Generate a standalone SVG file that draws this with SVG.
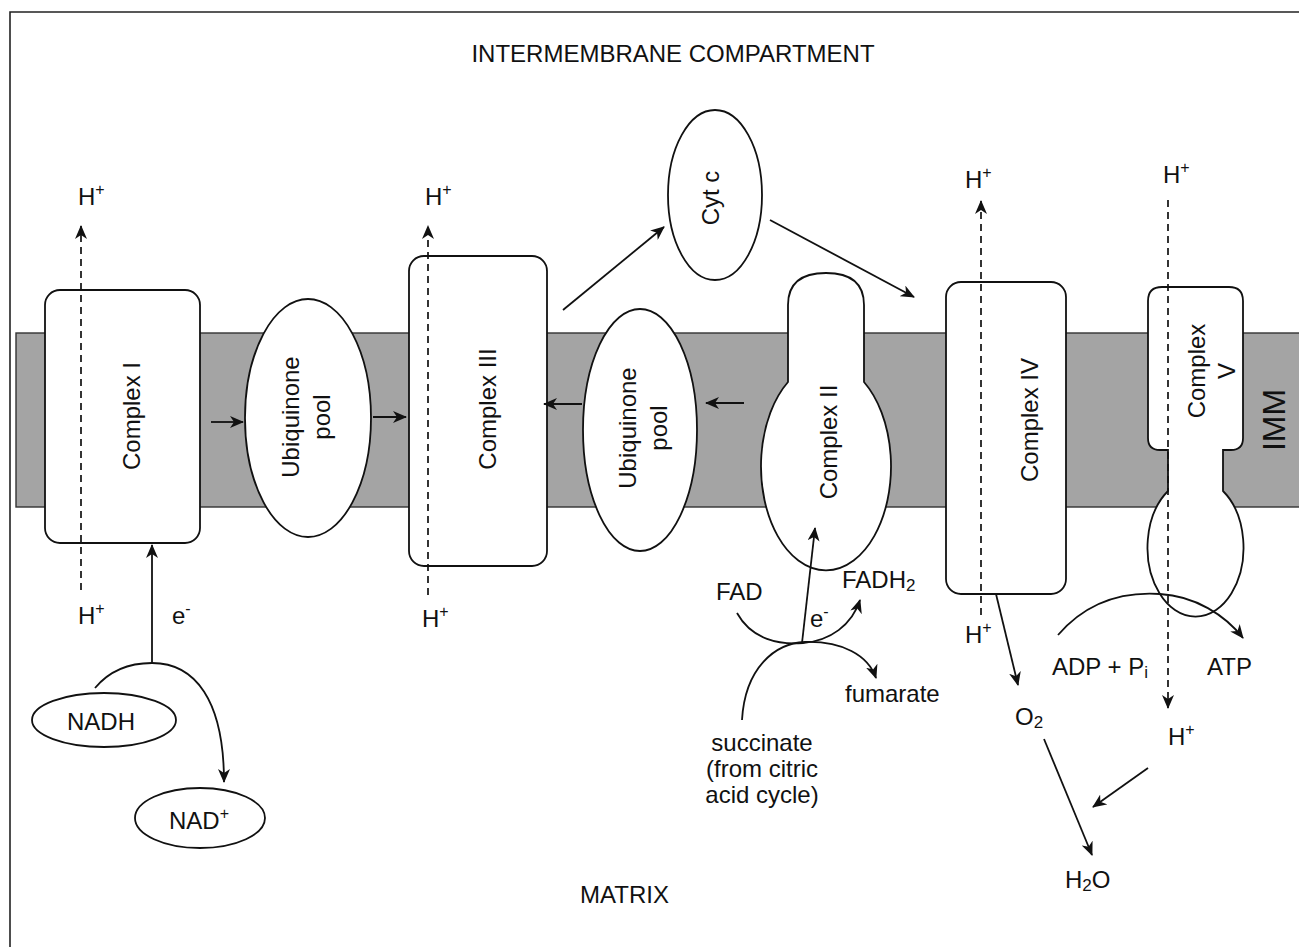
<svg xmlns="http://www.w3.org/2000/svg" width="1299" height="947" viewBox="0 0 1299 947">
<style>
text{font-family:"Liberation Sans",Arial,sans-serif;font-size:24px;fill:#111}
.node{fill:#fff;stroke:#111;stroke-width:1.8}
.conn{fill:none;stroke:#111;stroke-width:1.8}
.dash{fill:none;stroke:#111;stroke-width:1.7;stroke-dasharray:7 5}
.sup{font-size:16px}
.sub{font-size:17px}
.mid{text-anchor:middle}
</style>
<defs>
<marker id="ah" viewBox="0 0 14 12" refX="13" refY="6" markerWidth="14" markerHeight="12" orient="auto" markerUnits="userSpaceOnUse">
<path d="M0,0 L14,6 L0,12 L4,6 Z" fill="#111"/>
</marker>
</defs>
<rect width="1299" height="947" fill="#fff"/>
<path d="M10,947 V12 H1299" fill="none" stroke="#222" stroke-width="1.6"/>
<rect id="membrane" x="16" y="333" width="1290" height="174" fill="#a4a4a4" stroke="#333" stroke-width="1.4"/>
<text x="673" y="62" class="mid">INTERMEMBRANE COMPARTMENT</text>
<text x="580" y="903">MATRIX</text>
<text transform="translate(1285,420) rotate(-90)" class="mid" style="font-size:32px">IMM</text>

<g id="complex1">
<rect class="node" x="45" y="290" width="155" height="253" rx="15"/>
<text transform="translate(140,416) rotate(-90)" class="mid">Complex I</text>
</g>
<g id="ubiquinone1">
<ellipse class="node" cx="308" cy="418" rx="63" ry="119"/>
<text transform="translate(308,417) rotate(-90)" class="mid"><tspan x="0" y="-9">Ubiquinone</tspan><tspan x="0" y="22">pool</tspan></text>
</g>
<g id="complex3">
<rect class="node" x="409" y="256" width="138" height="310" rx="15"/>
<text transform="translate(496,409) rotate(-90)" class="mid">Complex III</text>
</g>
<g id="cytc">
<ellipse class="node" cx="715" cy="195" rx="47" ry="85"/>
<text transform="translate(719,198) rotate(-90)" class="mid">Cyt c</text>
</g>
<g id="ubiquinone2">
<ellipse class="node" cx="640" cy="430" rx="57" ry="121"/>
<text transform="translate(640,428) rotate(-90)" class="mid"><tspan x="0" y="-4">Ubiquinone</tspan><tspan x="0" y="27">pool</tspan></text>
</g>
<g id="complex2">
<path class="node" d="M788,382 V305 Q788,273 826,273 Q864,273 864,305 V382 A65,104 0 1 1 788,382 Z"/>
<text transform="translate(837,442) rotate(-90)" class="mid">Complex II</text>
</g>
<g id="complex4">
<rect class="node" x="946" y="282" width="120" height="312" rx="15"/>
<text transform="translate(1038,420) rotate(-90)" class="mid">Complex IV</text>
</g>
<g id="complex5">
<path class="node" d="M1168,491 V450 H1160 Q1148,450 1148,438 V301 Q1148,287 1162,287 H1229 Q1243,287 1243,301 V438 Q1243,450 1231,450 H1223 V491 A48,69 0 1 1 1168,491 Z"/>
<text transform="translate(1195,371) rotate(-90)" class="mid"><tspan x="0" y="10">Complex</tspan><tspan x="0" y="40">V</tspan></text>
</g>
<g id="nadh">
<ellipse class="node" cx="104" cy="720" rx="72" ry="27"/>
<text x="101" y="730" class="mid">NADH</text>
</g>
<g id="nadplus">
<ellipse class="node" cx="200" cy="818" rx="65" ry="30"/>
<text x="169" y="829">NAD<tspan class="sup" dy="-10">+</tspan></text>
</g>

<g id="connectors">
<path class="dash" d="M81,590 V226" marker-end="url(#ah)"/>
<path class="dash" d="M428,595 V226" marker-end="url(#ah)"/>
<path class="dash" d="M981,615 V201" marker-end="url(#ah)"/>
<path class="dash" d="M1168,200 V708" marker-end="url(#ah)"/>
<path class="conn" d="M152,663 V545" marker-end="url(#ah)"/>
<path class="conn" d="M95,688 C110,670 130,663 152,663 C195,663 224,700 224,782" marker-end="url(#ah)"/>
<path class="conn" d="M211,422 H243" marker-end="url(#ah)"/>
<path class="conn" d="M373,417 H406" marker-end="url(#ah)"/>
<path class="conn" d="M582,404 H544" marker-end="url(#ah)"/>
<path class="conn" d="M744,403 H706" marker-end="url(#ah)"/>
<path class="conn" d="M563,310 L664,227" marker-end="url(#ah)"/>
<path class="conn" d="M770,220 L914,297" marker-end="url(#ah)"/>
<path class="conn" d="M802,643 L815,528" marker-end="url(#ah)"/>
<path class="conn" d="M737,613 C752,640 780,645 803,643 C830,641 852,625 860,600" marker-end="url(#ah)"/>
<path class="conn" d="M742,720 C745,668 775,643 805,642 C842,641 868,655 876,678" marker-end="url(#ah)"/>
<path class="conn" d="M996,594 L1018,685" marker-end="url(#ah)"/>
<path class="conn" d="M1044,739 L1092,855" marker-end="url(#ah)"/>
<path class="conn" d="M1148,768 L1093,807" marker-end="url(#ah)"/>
<path class="conn" d="M1058,635 C1090,598 1130,592 1160,594 C1195,596 1225,615 1243,638" marker-end="url(#ah)"/>
</g>

<g id="labels">
<text x="78" y="205">H<tspan class="sup" dy="-10">+</tspan></text>
<text x="78" y="624">H<tspan class="sup" dy="-10">+</tspan></text>
<text x="172" y="624">e<tspan class="sup" dy="-10">-</tspan></text>
<text x="425" y="205">H<tspan class="sup" dy="-10">+</tspan></text>
<text x="422" y="627">H<tspan class="sup" dy="-10">+</tspan></text>
<text x="965" y="188">H<tspan class="sup" dy="-10">+</tspan></text>
<text x="965" y="643">H<tspan class="sup" dy="-10">+</tspan></text>
<text x="1163" y="183">H<tspan class="sup" dy="-10">+</tspan></text>
<text x="1168" y="745">H<tspan class="sup" dy="-10">+</tspan></text>
<text x="1015" y="725">O<tspan class="sub" dy="3">2</tspan></text>
<text x="1065" y="888">H<tspan class="sub" dy="3">2</tspan><tspan dy="-3">O</tspan></text>
<text x="1052" y="675">ADP + P<tspan class="sub" dy="3">i</tspan></text>
<text x="1207" y="675">ATP</text>
<text x="716" y="600">FAD</text>
<text x="842" y="588">FADH<tspan class="sub" dy="3">2</tspan></text>
<text x="810" y="627">e<tspan class="sup" dy="-10">-</tspan></text>
<text x="845" y="702">fumarate</text>
<text class="mid"><tspan x="762" y="751">succinate</tspan><tspan x="762" y="777">(from citric</tspan><tspan x="762" y="803">acid cycle)</tspan></text>
</g>
</svg>
